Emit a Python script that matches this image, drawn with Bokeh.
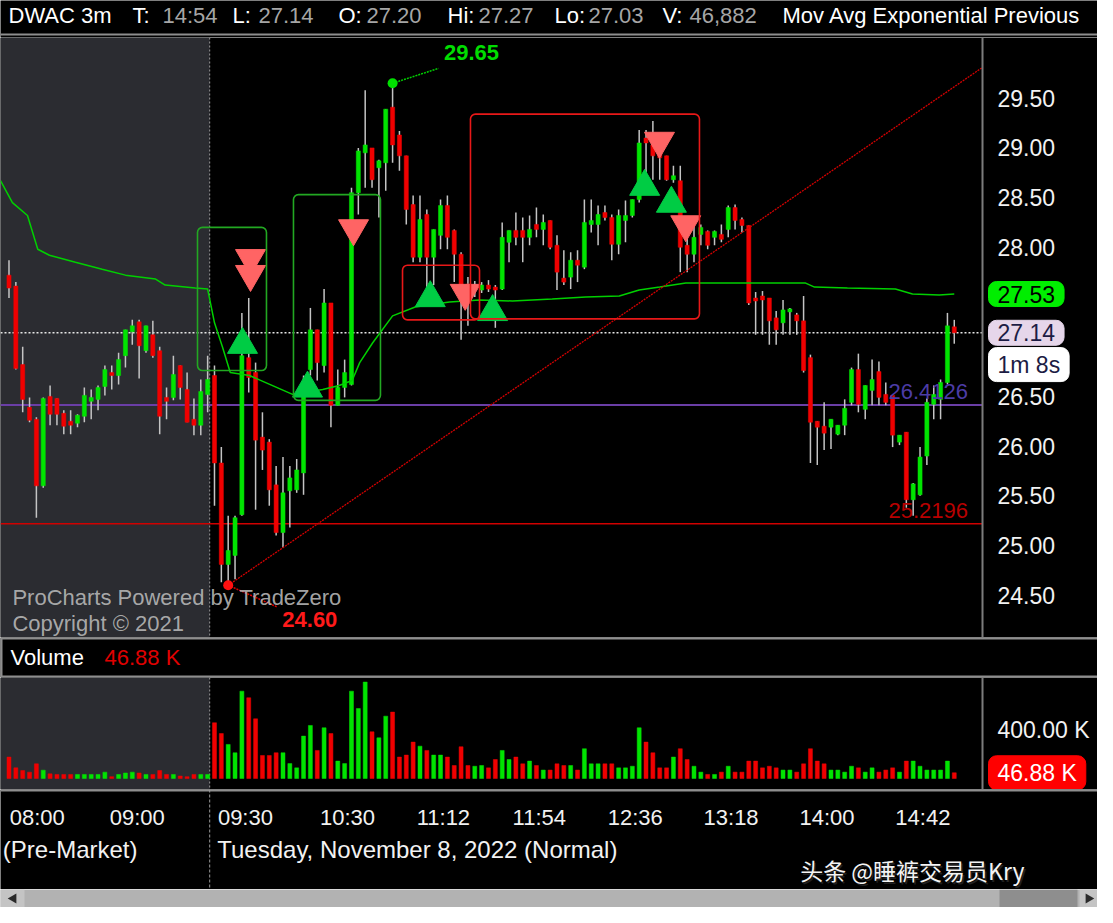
import numpy as np
from bokeh.plotting import figure
from bokeh.models import (Range1d, BoxAnnotation, Span, ColumnDataSource, Text)
from bokeh.layouts import column
from bokeh.embed import file_html
from bokeh.resources import INLINE
from bokeh.core.properties import value

# ---------------- data ----------------
symbol = "DWAC 3m"
last_time = "14:54"

pre_open = [27.72, 27.61, 26.82, 26.39, 26.27, 25.60, 26.50, 26.48, 26.33, 26.25,
            26.23, 26.30, 26.45, 26.47, 26.60, 26.74, 26.71, 26.91, 27.15, 27.25,
            26.96, 27.12, 26.96, 26.49, 26.49, 26.81, 26.57, 26.27, 26.21, 26.52]
pre_high = [27.87, 27.65, 27.00, 26.49, 26.29, 26.49, 26.61, 26.48, 26.36, 26.36,
            26.32, 26.59, 26.57, 26.61, 26.81, 26.81, 26.94, 27.17, 27.27, 27.27,
            27.21, 27.26, 27.00, 26.59, 26.91, 26.81, 26.74, 26.48, 26.67, 26.91]
pre_low = [27.49, 26.77, 26.34, 26.24, 25.28, 25.58, 26.21, 26.21, 26.12, 26.12,
           26.19, 26.24, 26.27, 26.36, 26.51, 26.57, 26.62, 26.79, 27.02, 26.68,
           26.94, 26.89, 26.12, 26.27, 26.46, 26.47, 26.24, 26.11, 26.11, 26.34]
pre_close = [27.59, 26.78, 26.47, 26.26, 25.60, 26.48, 26.32, 26.32, 26.20, 26.21,
             26.31, 26.51, 26.49, 26.59, 26.77, 26.71, 26.87, 27.17, 27.21, 27.01,
             27.21, 26.91, 26.30, 26.45, 26.72, 26.59, 26.24, 26.21, 26.55, 26.67]
pre_vol_k = [175, 87, 65, 52, 120, 68, 38, 33, 33, 33,
             33, 33, 33, 33, 52, 15, 33, 45, 52, 45,
             33, 33, 65, 33, 33, 20, 15, 33, 33, 33]

reg_open = [26.71, 25.83, 24.81, 24.90, 25.31, 26.89, 26.74, 26.09, 26.04, 25.61,
            25.13, 25.55, 25.56, 25.73, 26.77, 27.17, 26.81, 27.44, 26.41, 26.59,
            26.62, 28.55, 28.95, 29.00, 28.80, 28.85, 29.41, 29.13, 28.92, 28.43,
            27.90, 28.33, 27.90, 28.12, 28.42, 28.17, 27.93, 27.63, 27.57, 27.57,
            27.62, 27.60, 27.58, 28.05, 28.17, 28.17, 28.10, 28.23, 28.18, 28.27,
            28.02, 27.69, 27.70, 27.87, 27.80, 28.23, 28.23, 28.35, 28.30, 28.03,
            28.27, 28.32, 28.48, 29.10, 29.03, 28.95, 28.92, 28.68, 28.67, 28.02,
            27.93, 28.13, 28.16, 28.10, 28.13, 28.18, 28.40, 28.28, 28.22, 27.49,
            27.51, 27.49, 27.29, 27.24, 27.35, 27.32, 27.26, 26.89, 26.25, 26.20,
            26.19, 26.12, 26.21, 26.44, 26.77, 26.37, 26.56, 26.75, 26.52, 26.51,
            26.04, 26.14, 25.46, 25.51, 25.90, 26.42, 26.47, 26.64, 27.20]
reg_high = [26.81, 25.99, 25.30, 25.30, 27.34, 27.49, 26.84, 26.34, 26.07, 25.80,
            25.89, 25.80, 25.87, 26.71, 27.39, 27.17, 27.58, 27.44, 26.77, 26.87,
            28.60, 29.00, 29.58, 29.00, 28.88, 29.39, 29.65, 29.17, 28.92, 28.52,
            28.52, 28.38, 28.18, 28.48, 28.52, 28.18, 27.95, 27.70, 27.66, 27.65,
            27.67, 27.62, 28.25, 28.17, 28.35, 28.30, 28.32, 28.40, 28.33, 28.27,
            28.12, 27.97, 27.95, 27.97, 28.48, 28.48, 28.42, 28.42, 28.33, 28.38,
            28.47, 28.48, 29.18, 29.18, 29.27, 29.02, 28.92, 28.82, 28.82, 28.15,
            28.22, 28.23, 28.17, 28.17, 28.23, 28.42, 28.43, 28.30, 28.22, 27.55,
            27.56, 27.49, 27.36, 27.47, 27.39, 27.34, 27.51, 26.92, 26.25, 26.44,
            26.27, 26.21, 26.47, 26.79, 26.93, 26.61, 26.87, 26.85, 26.64, 26.51,
            26.11, 26.14, 25.63, 25.99, 26.48, 26.61, 26.67, 27.34, 27.27]
reg_low = [25.40, 24.63, 24.60, 24.66, 25.30, 26.54, 25.36, 25.76, 25.40, 25.10,
           24.98, 25.18, 25.53, 25.51, 26.71, 26.66, 26.74, 26.19, 26.41, 26.49,
           26.61, 28.33, 28.60, 28.60, 28.30, 28.57, 28.85, 28.77, 28.23, 27.85,
           27.85, 27.52, 27.62, 27.98, 27.98, 27.65, 27.07, 27.21, 27.50, 27.54,
           27.55, 27.19, 27.57, 27.85, 28.02, 27.85, 28.02, 28.10, 28.02, 27.98,
           27.57, 27.62, 27.58, 27.65, 27.78, 28.15, 28.02, 28.27, 27.87, 27.93,
           28.05, 28.30, 28.45, 28.68, 28.68, 28.68, 28.67, 28.65, 27.75, 27.75,
           27.85, 28.02, 27.98, 28.02, 28.05, 28.10, 28.18, 28.15, 27.42, 27.12,
           27.12, 27.02, 27.02, 27.12, 27.12, 27.12, 26.74, 25.83, 25.81, 25.96,
           25.97, 26.11, 26.11, 26.41, 26.34, 26.27, 26.41, 26.41, 26.41, 25.99,
           26.01, 25.38, 25.30, 25.50, 25.81, 26.27, 26.27, 26.62, 27.03]
reg_close = [25.83, 24.81, 24.95, 25.28, 26.91, 26.69, 26.06, 25.96, 25.56, 25.13,
             25.53, 25.68, 25.76, 26.54, 27.17, 26.84, 27.44, 26.41, 26.59, 26.74,
             28.55, 28.97, 29.03, 28.68, 28.87, 29.39, 29.03, 28.92, 28.38, 27.90,
             28.28, 27.90, 28.18, 28.42, 28.10, 27.93, 27.62, 27.57, 27.60, 27.62,
             27.58, 27.57, 28.10, 28.17, 28.10, 28.10, 28.18, 28.18, 28.25, 28.00,
             27.75, 27.65, 27.87, 27.82, 28.25, 28.27, 28.33, 28.30, 28.03, 28.32,
             28.32, 28.48, 29.05, 29.05, 28.92, 28.90, 28.68, 28.72, 28.00, 27.93,
             28.10, 28.20, 28.02, 28.16, 28.08, 28.40, 28.27, 28.22, 27.44, 27.46,
             27.47, 27.26, 27.17, 27.37, 27.38, 27.26, 26.76, 26.24, 26.19, 26.13,
             26.27, 26.21, 26.38, 26.77, 26.42, 26.61, 26.67, 26.49, 26.44, 26.11,
             26.11, 25.46, 25.62, 25.89, 26.44, 26.52, 26.64, 27.21, 27.14]
reg_vol_k = [455, 367, 278, 210, 713, 659, 487, 188, 188, 210,
             210, 122, 87, 346, 433, 229, 414, 367, 142, 122,
             713, 571, 787, 381, 332, 509, 542, 175, 191, 297,
             264, 229, 191, 191, 175, 106, 259, 106, 100, 106,
             87, 155, 229, 155, 175, 120, 142, 106, 69, 69,
             120, 106, 106, 69, 243, 120, 120, 120, 120, 87,
             87, 100, 414, 297, 210, 87, 87, 175, 243, 155,
             100, 52, 33, 33, 52, 100, 52, 52, 142, 142,
             87, 100, 87, 69, 69, 52, 120, 243, 142, 120,
             69, 69, 52, 100, 87, 52, 87, 52, 69, 87,
             52, 142, 142, 100, 69, 69, 69, 142, 46.882]

# exponential moving average (previous day) read at its vertices: bar index, price
ema_idx = [-31.24, -29.5, -27.3, -25.8, -24.1, -20.3, -16.4, -13.0, -8.6, -7.2, -2.8, -1.0,
           0.0, 1.2, 2.3, 5.1, 11.4, 15.8, 18.2, 20.1, 21.2, 23.1, 26.0, 29.3, 34.3,
           38.7, 43.5, 49.3, 54.2, 59.1, 62.0, 65.0, 68.8, 78.5, 86.3, 87.6, 92.4,
           99.4, 101.9, 105.8, 108.0]
ema_val = [28.67, 28.45, 28.32, 27.98, 27.92, 27.85, 27.78, 27.72, 27.68, 27.62, 27.59, 27.58,
           27.24, 26.99, 26.74, 26.71, 26.52, 26.57, 26.61, 26.66, 26.84, 27.04, 27.31, 27.40, 27.45,
           27.47, 27.46, 27.48, 27.50, 27.51, 27.57, 27.60, 27.64, 27.64, 27.64, 27.60, 27.59,
           27.58, 27.53, 27.52, 27.53]

level_values = [26.4126, 25.2196]
trend_x = [2, 112.12]
trend_y = [24.60, 29.81]
buy_x = [4.09, 13.58, 31.5, 40.6, 62.8, 66.7]
buy_y = [27.02, 26.58, 27.49, 27.35, 28.61, 28.44]
sell_x = [5.26, 5.26, 20.3, 36.6, 64.96, 68.8]
sell_y = [27.89, 27.73, 28.19, 27.54, 29.07, 28.23]
gbox_left = [-2.48, 11.53]
gbox_right = [7.59, 24.23]
gbox_top = [28.20, 28.53]
gbox_bottom = [26.76, 26.46]
rbox_left = [27.45, 37.37]
rbox_right = [38.69, 70.8]
rbox_top = [27.82, 29.34]
rbox_bottom = [27.27, 27.28]

price_ticks = [24.5, 25.0, 25.5, 26.0, 26.5, 27.0, 27.5, 28.0, 28.5, 29.0, 29.5]
vol_ticks = [400]
time_tick_idx = [-25.3, -10.7, 5.1, 20, 34, 48, 62, 76, 90, 104]
time_labels = ["08:00", "09:00", "09:30", "10:30", "11:12", "11:54", "12:36", "13:18", "14:00", "14:42"]
session_start = -0.7
countdown = "1m 8s"
countdown_y = 26.82

# ---------------- derived ----------------
opens = np.array(pre_open + reg_open)
highs = np.array(pre_high + reg_high)
lows = np.array(pre_low + reg_low)
closes = np.array(pre_close + reg_close)
vols = np.array(pre_vol_k + reg_vol_k)
idx = np.arange(-len(pre_open), len(reg_open))

GREEN = "#00e400"
RED = "#f00000"
WICK = "#c4c4c4"
colors = [GREEN if c >= o else RED for o, c in zip(opens, closes)]

W = 1097
FRAME_W = 982                      # chart area width (left of the price scale)
X0, X1 = -31.24, 112.12            # bar-index range of the chart area
DX = (X1 - X0) / FRAME_W           # bar-index units per pixel
XW = X0 + W * DX
FONT = "Liberation Sans"
SHADE = "#2b2c31"
SEP = "#8e8e8e"
AXC = "#7c7c7c"
TXT = "#f2f2f2"
TEXT_BG = "background_fill_color" in Text.properties()

xr = Range1d(X0, XW)


def base(height, x_range, y_range):
    f = figure(width=W, height=height, x_range=x_range, y_range=y_range,
               output_backend="svg", toolbar_location=None,
               x_axis_location=None, y_axis_location=None,
               background_fill_color="black", border_fill_color="black",
               outline_line_color=None, min_border=0)
    f.grid.visible = False
    return f


def scale_labels(fig, ys, labels):
    fig.text(x=[X1] * len(ys), y=ys, text=labels, x_offset=15, text_color=TXT,
             text_font=value(FONT), text_font_size="23px", text_baseline="middle",
             text_align="left")


def badges(fig, ys, texts, bgs, fgs, widths):
    n = len(ys)
    if TEXT_BG:
        fig.text(x=[X1] * n, y=ys, text=texts, x_offset=6, text_color=fgs,
                 text_font=value(FONT), text_font_size="23px", text_baseline="middle",
                 text_align="left", background_fill_color=bgs, border_line_color=bgs,
                 padding=(9, 4), border_radius=8)
    else:
        fig.rect(x=[X1 + (6 + w / 2) * DX for w in widths], y=ys, width=widths,
                 height=[27] * n, width_units="screen", height_units="screen",
                 fill_color=bgs, line_color=bgs)
        fig.text(x=[X1] * n, y=ys, text=texts, x_offset=15, text_color=fgs,
                 text_font=value(FONT), text_font_size="23px", text_baseline="middle",
                 text_align="left")


# ---------------- header ----------------
last = len(reg_close) - 1
hdr = base(37, Range1d(0, W), Range1d(37, 0))
hdr_parts = [
    (symbol, 8, "#ffffff"), ("T:", 132, "#ffffff"), (last_time, 162, "#a6a6a6"),
    ("L:", 232, "#ffffff"), (f"{reg_close[last]:.2f}", 258, "#a6a6a6"),
    ("O:", 338, "#ffffff"), (f"{reg_open[last]:.2f}", 366, "#a6a6a6"),
    ("Hi:", 447, "#ffffff"), (f"{reg_high[last]:.2f}", 478, "#a6a6a6"),
    ("Lo:", 554, "#ffffff"), (f"{reg_low[last]:.2f}", 588, "#a6a6a6"),
    ("V:", 662, "#ffffff"), (f"{int(round(reg_vol_k[last] * 1000)):,}", 689, "#a6a6a6"),
    ("Mov Avg Exponential Previous", 782, "#ffffff"),
]
hdr.text(x=[q[1] for q in hdr_parts], y=[15] * len(hdr_parts), text=[q[0] for q in hdr_parts],
         text_color=[q[2] for q in hdr_parts], text_font=value(FONT), text_font_size="22px",
         text_baseline="middle", text_align="left")
hdr.add_layout(Span(location=34, dimension="width", line_color=SEP, line_width=2))

# ---------------- price panel ----------------
p = base(600, xr, Range1d(24.0744, 30.1107))
p.add_layout(BoxAnnotation(right=session_start, fill_color=SHADE, fill_alpha=1,
                           line_color=None, level="underlay"))
p.add_layout(Span(location=session_start, dimension="height", line_color="#9a9a9a",
                  line_dash="2 2", line_width=1, level="underlay"))
p.add_layout(Span(location=X1, dimension="height", line_color=AXC, line_width=2))

# horizontal levels stop at the price scale
p.segment([X0, X0], level_values, [X1, X1], level_values,
          line_color=["#6a3ea6", "#d00000"], line_width=[2, 1.5])
p.segment([X0], [reg_close[last]], [X1], [reg_close[last]], line_color="#e6e6e6",
          line_width=1.5, line_dash="2 2")

src = ColumnDataSource(dict(x=idx, h=highs, l=lows,
                            top=np.maximum(opens, closes), bottom=np.minimum(opens, closes),
                            color=colors))
p.segment("x", "h", "x", "l", source=src, line_color=WICK, line_width=1.5)
p.vbar(x="x", width=0.6, top="top", bottom="bottom", source=src,
       fill_color="color", line_color="color", line_width=0.5)

p.line(ema_idx, ema_val, line_color="#00d000", line_width=1.5)
p.line(trend_x, trend_y, line_color="#d40000", line_width=1.3, line_dash="2 1")

for l, r, t_, b in zip(gbox_left, gbox_right, gbox_top, gbox_bottom):
    p.add_layout(BoxAnnotation(left=l, right=r, top=t_, bottom=b, fill_alpha=0,
                               line_color="#22a822", line_alpha=1, line_width=1.6,
                               border_radius=5))
for l, r, t_, b in zip(rbox_left, rbox_right, rbox_top, rbox_bottom):
    p.add_layout(BoxAnnotation(left=l, right=r, top=t_, bottom=b, fill_alpha=0,
                               line_color="#e81818", line_alpha=1, line_width=1.6,
                               border_radius=5))

p.scatter(buy_x, buy_y, marker="triangle", size=30, fill_color="#00cc44", line_color="#00cc44")
p.scatter(sell_x, sell_y, marker="inverted_triangle", size=30, fill_color="#ff6464",
          line_color="#ff6464")

# high / low markers
hi_i = int(np.argmax(highs)); lo_i = int(np.argmin(lows))
hx, hy = idx[hi_i], highs[hi_i]
lx, ly = idx[lo_i], lows[lo_i]
p.segment([hx, lx], [hy, ly], [hx + 6.7, lx + 7.2], [hy + 0.15, ly - 0.22],
          line_color=["#00d000", "#e00000"], line_width=1.5, line_dash="2 1")
p.scatter([hx, lx], [hy, ly], size=10, fill_color=["#00e000", "#ff1010"], line_color=None)
p.text([hx + 7.5, lx + 7.9], [hy + 0.31, ly - 0.34], text=[f"{hy:.2f}", f"{ly:.2f}"],
       text_color=["#00dd00", "#ff1a1a"], text_font=value(FONT), text_font_size="22px",
       text_font_style="bold", text_baseline="middle", text_align="left")

p.text([110.0, 110.0], level_values, text=[f"{v_:.4f}" for v_ in level_values],
       text_color=["#4c3ca6", "#b80000"], text_font=value(FONT), text_font_size="22px",
       text_baseline="bottom", text_align="right", y_offset=-6)

p.text([-29.5, -29.5], [24.48, 24.215], text=["ProCharts Powered by TradeZero", "Copyright © 2021"],
       text_color="#b8b8b8", text_alpha=0.9, text_font=value(FONT), text_font_size="22px",
       text_baseline="middle", text_align="left")

badge_y = [ema_val[-1], reg_close[last], countdown_y]
# price-scale labels hidden where a value badge sits on top of them
shown_ticks = [t_ for t_ in price_ticks if min(abs(t_ - b) for b in badge_y) > 0.17]
scale_labels(p, shown_ticks, [f"{t_:.2f}" for t_ in shown_ticks])
badges(p, badge_y, [f"{ema_val[-1]:.2f}", f"{reg_close[last]:.2f}", countdown],
       ["#00ee00", "#e6d6ea", "#ffffff"], ["#000000", "#1c1c44", "#1c1c44"], [76, 76, 82])

# ---------------- volume header ----------------
vh = base(40, Range1d(0, W), Range1d(40, 0))
vh.add_layout(Span(location=1, dimension="width", line_color=SEP, line_width=2))
vh.add_layout(Span(location=39, dimension="width", line_color=SEP, line_width=2))
vh.add_layout(Span(location=1, dimension="height", line_color=SEP, line_width=2))
vh.text([10, 104], [20, 20], text=["Volume", f"{reg_vol_k[last]:.2f} K"],
        text_color=["#ffffff", "#e00000"], text_font=value(FONT), text_font_size="22px",
        text_baseline="middle", text_align="left")

# ---------------- volume panel ----------------
v = base(112, xr, Range1d(-89.8, 824.5))
v.add_layout(BoxAnnotation(right=session_start, fill_color=SHADE, fill_alpha=1,
                           line_color=None, level="underlay"))
v.add_layout(Span(location=session_start, dimension="height", line_color="#9a9a9a",
                  line_dash="2 2", line_width=1, level="underlay"))
v.add_layout(Span(location=X1, dimension="height", line_color=AXC, line_width=2))
v.vbar(x=idx, width=0.58, top=vols, bottom=0, fill_color=colors, line_color=colors, line_width=0.5)
scale_labels(v, vol_ticks, [f"{t_:.2f} K" for t_ in vol_ticks])
badges(v, [reg_vol_k[last]], [f"{reg_vol_k[last]:.2f} K"], ["#ff0000"], ["#ffffff"], [94])

# ---------------- time axis ----------------
t = base(100, xr, Range1d(100, 0))
t.add_layout(Span(location=1, dimension="width", line_color=SEP, line_width=2))
t.add_layout(Span(location=session_start, dimension="height", line_color="#9a9a9a",
                  line_dash="3 2", line_width=1))
t.text(time_tick_idx, [28] * len(time_labels), text=time_labels, text_color=TXT,
       text_font=value(FONT), text_font_size="22px", text_baseline="middle",
       text_align="center", x_offset=-4)
t.text([-30.9, 0.4], [60, 60], text=["(Pre-Market)", "Tuesday, November 8, 2022 (Normal)"],
       text_color=TXT, text_font=value(FONT), text_font_size="24px",
       text_baseline="middle", text_align="left")
wm = "头条 @睡裤交易员Kry"
t.text([85.6], [81], text=[wm], text_color="#202020", text_font=value("Noto Sans CJK SC"),
       text_font_size="23px", text_baseline="middle", text_align="left", x_offset=1, y_offset=1)
t.text([85.5], [80], text=[wm], text_color="#f4f4f4", text_font=value("Noto Sans CJK SC"),
       text_font_size="23px", text_baseline="middle", text_align="left")

# ---------------- scrollbar ----------------
s = base(18, Range1d(0, W), Range1d(18, 0))
s.background_fill_color = "#b2b2b2"
s.quad(left=[0, 999, W - 18], right=[24, 1077, W], top=[0, 0, 0], bottom=[18, 18, 18],
       fill_color=["#c4c4c4", "#8e8e8e", "#c4c4c4"], line_color=None)
s.scatter([13, W - 9], [9, 9], marker="triangle", size=10, angle=[np.pi / 2, -np.pi / 2],
          fill_color="#2a2a2a", line_color=None)

layout = column(hdr, p, vh, v, t, s, spacing=0)
open("out.html", "w").write(file_html(layout, INLINE))
